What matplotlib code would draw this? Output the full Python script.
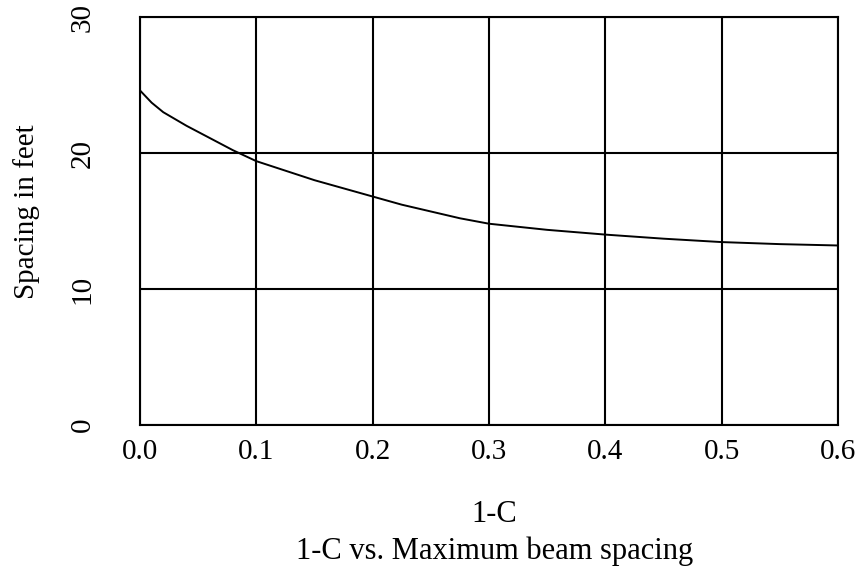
import matplotlib
matplotlib.use("Agg")
import matplotlib.pyplot as plt

# Data
one_minus_c = [0.0, 0.01, 0.02, 0.04, 0.06, 0.08, 0.1, 0.125, 0.15, 0.175,
               0.2, 0.225, 0.25, 0.275, 0.3, 0.35, 0.4, 0.45, 0.5, 0.55, 0.6]
spacing_ft = [24.6, 23.7, 23.0, 22.0, 21.1, 20.2, 19.4, 18.7, 18.0, 17.4,
              16.8, 16.2, 15.7, 15.2, 14.8, 14.35, 14.0, 13.7, 13.45, 13.3, 13.2]
x_ticks = [0.0, 0.1, 0.2, 0.3, 0.4, 0.5, 0.6]
x_tick_labels = ["0.0", "0.1", "0.2", "0.3", "0.4", "0.5", "0.6"]
y_ticks = [0, 10, 20, 30]
y_tick_labels = ["0", "10", "20", "30"]

plt.rcParams['font.family'] = ['Liberation Serif', 'DejaVu Serif']

fig = plt.figure(figsize=(8.65, 5.71), dpi=100)
ax = fig.add_axes([140/865, 146/571, (838-140)/865, (425-17)/571])

ax.plot(one_minus_c, spacing_ft, color='black', linewidth=1.4)
ax.set_xlim(0, 0.6)
ax.set_ylim(0, 30)
ax.set_xticks(x_ticks)
ax.set_xticklabels(x_tick_labels, fontsize=21)
ax.set_yticks(y_ticks)
ax.set_yticklabels(y_tick_labels, fontsize=21, rotation=90, va='center')
ax.tick_params(axis='both', length=0)
ax.tick_params(axis='x', pad=10)
ax.tick_params(axis='y', pad=32)
ax.grid(True, color='black', linewidth=1.5)
for s in ax.spines.values():
    s.set_linewidth(1.5)
    s.set_color('black')

fig.text(27/865, 1 - 212/571, "Spacing in feet", rotation=90, fontsize=21,
         ha='center', va='center')
fig.text(494/865, 1 - 515/571, "1-C", fontsize=22, ha='center', va='center')
fig.text(495/865, 1 - 551/571, "1-C vs. Maximum beam spacing", fontsize=22,
         ha='center', va='center')

fig.savefig("out.png", dpi=100)
